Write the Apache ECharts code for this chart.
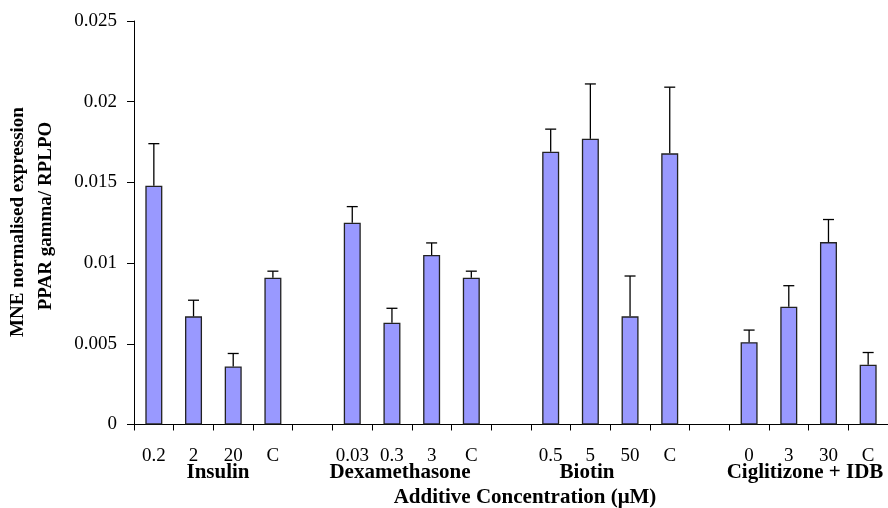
<!DOCTYPE html>
<html>
<head>
<meta charset="utf-8">
<script src="https://cdn.jsdelivr.net/npm/echarts@6/dist/echarts.min.js"></script>
<style>html,body{margin:0;padding:0;background:#fff}#c{width:888px;height:508px}</style>
</head>
<body>
<div id="c"></div>
<script>
// Data
const groupNames = ['Insulin', 'Dexamethasone', 'Biotin', 'Ciglitizone + IDB'];

const insulinLabels = ['0.2', '2', '20', 'C'];
const insulinMean   = [0.0148, 0.0067, 0.0036, 0.0091];
const insulinSD     = [0.0026, 0.0010, 0.0008, 0.0004];

const dexLabels = ['0.03', '0.3', '3', 'C'];
const dexMean   = [0.0125, 0.0063, 0.0105, 0.0091];
const dexSD     = [0.0010, 0.0009, 0.00075, 0.0004];

const biotinLabels = ['0.5', '5', '50', 'C'];
const biotinMean   = [0.0169, 0.0177, 0.0067, 0.0168];
const biotinSD     = [0.0014, 0.0034, 0.0025, 0.0041];

const cigLabels = ['0', '3', '30', 'C'];
const cigMean   = [0.0051, 0.0073, 0.0113, 0.0037];
const cigSD     = [0.00075, 0.0013, 0.0014, 0.00076];

const yTicks = [0, 0.005, 0.01, 0.015, 0.02, 0.025];

// Build category axis with blank spacer categories between groups
const groupLabels = [insulinLabels, dexLabels, biotinLabels, cigLabels];
const groupMeans = [insulinMean, dexMean, biotinMean, cigMean];
const groupSDs = [insulinSD, dexSD, biotinSD, cigSD];
const categories = [], means = [], errs = [];
groupLabels.forEach((labs, g) => {
  if (g > 0) { categories.push(''); means.push('-'); errs.push(null); }
  labs.forEach((l, i) => {
    categories.push(l);
    means.push(groupMeans[g][i]);
    errs.push([categories.length - 1, groupMeans[g][i], groupMeans[g][i] + groupSDs[g][i]]);
  });
});
const errData = errs.filter(e => e);

const FONT = '"Liberation Serif", "Times New Roman", serif';
const chart = echarts.init(document.getElementById('c'), null, {renderer: 'canvas'});
chart.setOption({
  animation: false,
  backgroundColor: '#fff',
  grid: {left: 134, top: 21, width: 764, bottom: 83.5, containLabel: false},
  xAxis: {
    type: 'category',
    data: categories,
    boundaryGap: true,
    axisLine: {show: true, lineStyle: {color: '#000', width: 1}},
    axisTick: {show: true, length: 6, inside: false, alignWithLabel: false, interval: 0, lineStyle: {color: '#000'}},
    axisLabel: {show: true, interval: 0, margin: 22, color: '#000', fontFamily: FONT, fontSize: 19},
    splitLine: {show: false}
  },
  yAxis: {
    type: 'value',
    min: yTicks[0], max: yTicks[yTicks.length - 1], interval: yTicks[1] - yTicks[0],
    axisLine: {show: true, lineStyle: {color: '#000', width: 1}},
    axisTick: {show: true, length: 7, lineStyle: {color: '#000'}},
    axisLabel: {margin: 17, color: '#000', fontFamily: FONT, fontSize: 19,
      formatter: v => String(+(+v).toFixed(3))},
    splitLine: {show: false}
  },
  graphic: [
    {type: 'text', x: 18, y: 222, rotation: Math.PI / 2,
      style: {text: 'MNE normalised expression', fill: '#000', font: 'bold 19px ' + FONT, align: 'center', verticalAlign: 'middle'}},
    {type: 'text', x: 46, y: 216, rotation: Math.PI / 2,
      style: {text: 'PPAR gamma/ RPLPO', fill: '#000', font: 'bold 19px ' + FONT, align: 'center', verticalAlign: 'middle'}},
    {type: 'text', x: 218, y: 473, style: {text: groupNames[0], fill: '#000', font: 'bold 21px ' + FONT, align: 'center', verticalAlign: 'middle'}},
    {type: 'text', x: 400, y: 473, style: {text: groupNames[1], fill: '#000', font: 'bold 21px ' + FONT, align: 'center', verticalAlign: 'middle'}},
    {type: 'text', x: 587, y: 473, style: {text: groupNames[2], fill: '#000', font: 'bold 21px ' + FONT, align: 'center', verticalAlign: 'middle'}},
    {type: 'text', x: 805, y: 473, style: {text: groupNames[3], fill: '#000', font: 'bold 21px ' + FONT, align: 'center', verticalAlign: 'middle'}},
    {type: 'text', x: 525, y: 498, style: {text: 'Additive Concentration (\u03bcM)', fill: '#000', font: 'bold 21px ' + FONT, align: 'center', verticalAlign: 'middle'}}
  ],
  series: [
    {
      type: 'bar',
      data: means,
      barWidth: 17,
      itemStyle: {color: '#9999ff', borderColor: '#222', borderWidth: 1.3},
      z: 2
    },
    {
      type: 'custom',
      data: errData,
      z: 3,
      renderItem: function (params, api) {
        const x = api.value(0);
        const p0 = api.coord([x, api.value(1)]);
        const p1 = api.coord([x, api.value(2)]);
        const hw = 5.5;
        const st = {stroke: '#000', lineWidth: 1.3};
        return {
          type: 'group',
          children: [
            {type: 'line', shape: {x1: p0[0], y1: p0[1], x2: p1[0], y2: p1[1]}, style: st},
            {type: 'line', shape: {x1: p1[0] - hw, y1: p1[1], x2: p1[0] + hw, y2: p1[1]}, style: st}
          ]
        };
      }
    }
  ]
});
</script>
</body>
</html>
